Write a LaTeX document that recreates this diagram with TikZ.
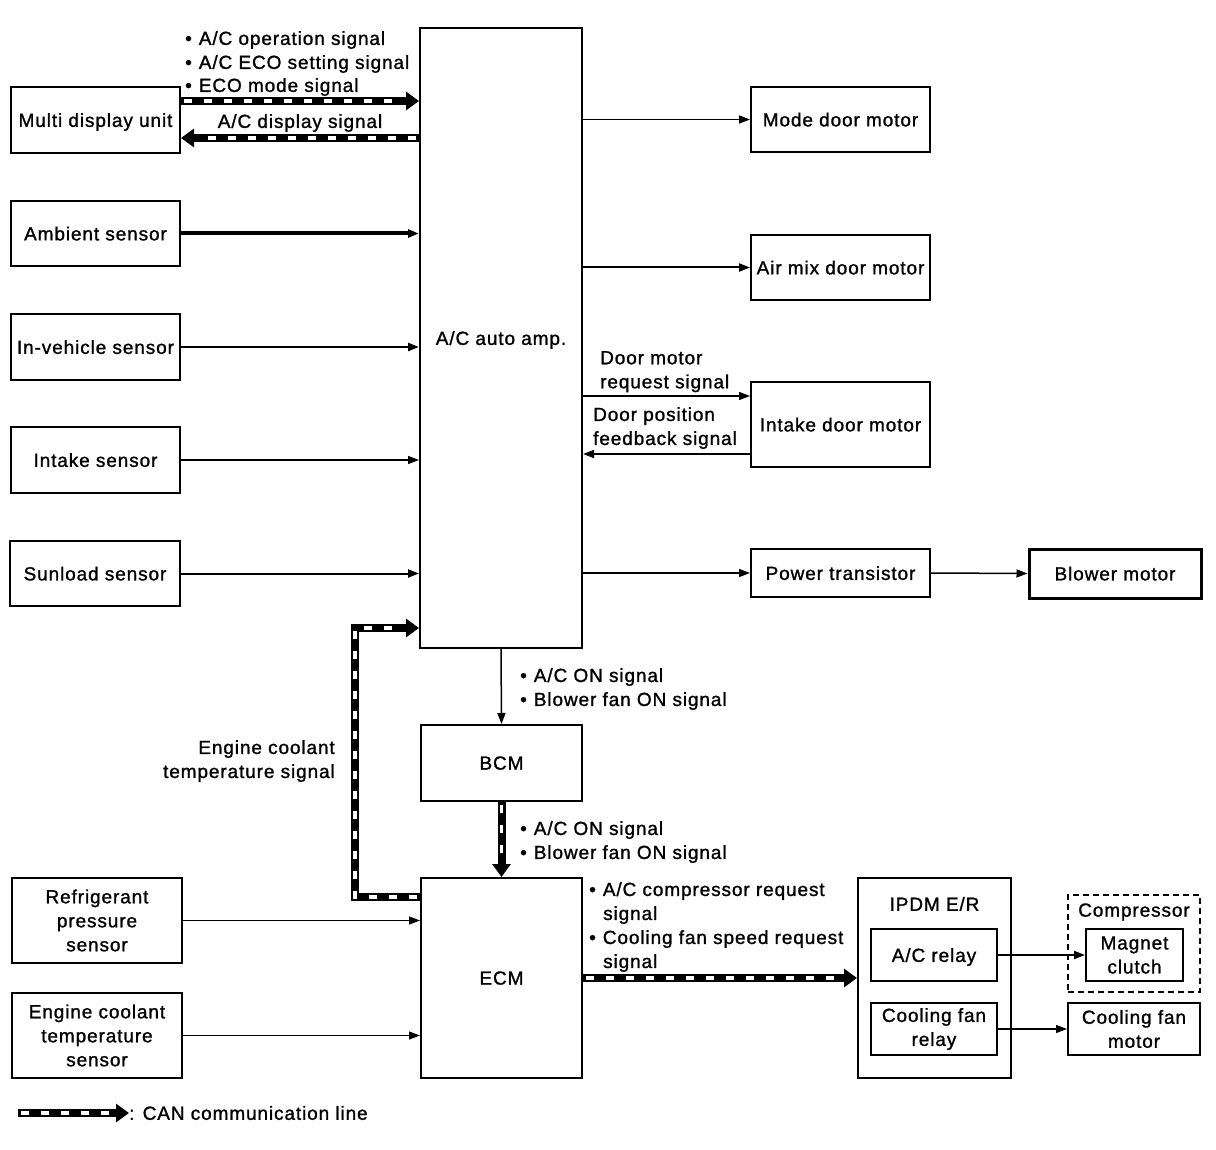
\documentclass[tikz,border=0pt]{standalone}
\usepackage{fontspec}
\setmainfont{Liberation Sans}[LetterSpace=4.7, FakeBold=1.2]
\usetikzlibrary{arrows.meta,calc}
\begin{document}
\begin{tikzpicture}[x=1pt,y=-1pt,
  every node/.style={font=\fontsize{19}{24}\selectfont},
  box/.style={draw, line width=2, inner sep=0, align=center},
  one/.style={text depth=0pt},
  lbl/.style={inner sep=0, align=left},
  sig/.style={line width=1.5, -{Triangle[length=11,width=8]}},
  can/.style={line width=8, -{Triangle[length=13,width=18]},
    postaction={draw=white, line width=3.5, -, dash pattern=on 8 off 12, shorten >=16, shorten <=3}},
]
\useasboundingbox (0,0) rectangle (1216,1150);
% left column
\node[box, one, minimum width=169, minimum height=66] (mdu) at (95.5,120) {Multi display unit};
\node[box, one, minimum width=169, minimum height=65] (amb) at (95.5,233.5) {Ambient sensor};
\node[box, one, minimum width=169, minimum height=66] (inv) at (95.5,347) {In-vehicle sensor};
\node[box, one, minimum width=169, minimum height=66] (ins) at (95.5,460) {Intake sensor};
\node[box, one, minimum width=170, minimum height=65] (sun) at (95,573.5) {Sunload sensor};
\node[box, minimum width=170, minimum height=85] (refr) at (97,920.5) {Refrigerant\\pressure\\sensor};
\node[box, minimum width=170, minimum height=85] (ect) at (97,1035.5) {Engine coolant\\temperature\\sensor};
% center column
\node[box, one, minimum width=162, minimum height=620] (amp) at (501,338) {A/C auto amp.};
\node[box, one, minimum width=161, minimum height=76] (bcm) at (501.5,763) {BCM};
\node[box, one, minimum width=161, minimum height=200] (ecm) at (501.5,978) {ECM};
% right column
\node[box, one, minimum width=179, minimum height=65] (mode) at (840.5,119.5) {Mode door motor};
\node[box, one, minimum width=179, minimum height=65] (airmix) at (840.5,267.5) {Air mix door motor};
\node[box, one, minimum width=179, minimum height=85] (intake) at (840.5,424.5) {Intake door motor};
\node[box, one, minimum width=179, minimum height=48] (powtr) at (840.5,573) {Power transistor};
\node[box, one, line width=3, minimum width=172, minimum height=49] (blower) at (1115,573.5) {Blower motor};
% IPDM
\node[box, minimum width=153, minimum height=200] (ipdm) at (934.5,978) {};
\node[lbl] (ipdmlbl) at (934.5,904) {IPDM E/R};
\node[box, one, minimum width=126, minimum height=52] (acrelay) at (934,955) {A/C relay};
\node[box, minimum width=126, minimum height=52] (cfrelay) at (934,1029) {Cooling fan\\relay};
\node[box, dashed, line width=1.5, dash pattern=on 6 off 4, minimum width=132, minimum height=97] (comp) at (1134,943.5) {};
\node[lbl] (complbl) at (1134,912) {Compressor};
\node[box, minimum width=97, minimum height=52] (magnet) at (1134.5,955) {Magnet\\clutch};
\node[box, minimum width=132, minimum height=52] (cfmotor) at (1134,1029) {Cooling fan\\motor};

% signal labels
\node[lbl, anchor=west] (l1) at (185,40) {•\hspace{7pt}A/C operation signal};
\node[lbl, anchor=west] (l2) at (185,64) {•\hspace{7pt}A/C ECO setting signal};
\node[lbl, anchor=west] (l3) at (185,87) {•\hspace{7pt}ECO mode signal};
\node[lbl] (l4) at (300,123) {A/C display signal};
\node[lbl, anchor=north west] (l5) at (600,351) {Door motor\\request signal};
\node[lbl, anchor=north west] (l6) at (593,407) {Door position\\feedback signal};
\node[lbl, anchor=north west] (l7) at (520,668) {•\hspace{7pt}A/C ON signal\\•\hspace{7pt}Blower fan ON signal};
\node[lbl, anchor=north west] (l8) at (520,821) {•\hspace{7pt}A/C ON signal\\•\hspace{7pt}Blower fan ON signal};
\node[lbl, anchor=north east, align=right] (l9) at (335,740) {Engine coolant\\temperature signal};
\node[lbl, anchor=north west] (l10) at (589,882) {•\hspace{7pt}A/C compressor request\\\hspace*{14pt}signal\\•\hspace{7pt}Cooling fan speed request\\\hspace*{14pt}signal};

% CAN lines
\coordinate (c1) at ([yshift=19]mdu.east);
\coordinate (c2) at ([yshift=-18]mdu.east);
\draw[can] (c1) -- (c1 -| amp.west);
\draw[can] (c2 -| amp.west) -- (c2);
\draw[can] (bcm.south) -- (ecm.north);
\coordinate (ce) at ([yshift=81]ecm.west);
\coordinate (ca) at ([yshift=-290]amp.west);
\coordinate (canx) at (355,628);
\draw[can, line join=miter] (ce) -| (canx) -- (ca);
\draw[can] (ecm.east) -- (ipdm.west);

% inputs
\draw[sig, line width=4] (amb.east) -- (amb.east -| amp.west);
\draw[sig, line width=2.5] (inv.east) -- (inv.east -| amp.west);
\draw[sig, line width=1.2] (ins.east) -- (ins.east -| amp.west);
\draw[sig, line width=2] (sun.east) -- (sun.east -| amp.west);
\draw[sig, line width=1.2] (refr.east) -- (refr.east -| ecm.west);
\draw[sig, line width=1.2] (ect.east) -- (ect.east -| ecm.west);
% outputs
\draw[sig] (mode.west -| amp.east) -- (mode.west);
\draw[sig, line width=2] (airmix.west -| amp.east) -- (airmix.west);
\coordinate (d1) at ([yshift=28.5]intake.west);
\coordinate (d2) at ([yshift=-29.5]intake.west);
\draw[sig, line width=1.2] (d1 -| amp.east) -- (d1);
\draw[sig, line width=1.5] (d2) -- (d2 -| amp.east);
\draw[sig] (powtr.west -| amp.east) -- (powtr.west);
\draw[sig] (powtr.east) -- (blower.west);
\draw[sig] (amp.south) -- (bcm.north);
\draw[sig, line width=2] (acrelay.east) -- (magnet.west);
\draw[sig, line width=1.2] (cfrelay.east) -- (cfrelay.east -| cfmotor.west);

% legend
\coordinate (lg1) at (18,1113);
\coordinate (lg2) at (129,1113);
\draw[can] (lg1) -- (lg2);
\node[lbl, anchor=west] (lgt) at (lg2) {: CAN communication line};
\end{tikzpicture}
\end{document}
